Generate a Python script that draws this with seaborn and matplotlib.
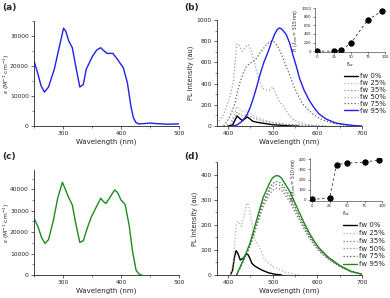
import numpy as np
import pandas as pd
import matplotlib
matplotlib.use('Agg')
import matplotlib.pyplot as plt
import seaborn as sns
from matplotlib.ticker import MultipleLocator, AutoMinorLocator

# (a) absorption, blue compound
wl_a = [250, 257, 262, 268, 275, 285, 294, 301, 305, 310, 316, 323, 329, 335, 340,
        351, 358, 365, 371, 376, 381, 386, 394, 400, 404, 411, 417, 421, 425, 430,
        440, 450, 460, 480, 500]
eps_a = [21700, 17200, 13500, 11300, 13000, 18900, 26700, 32600, 31500, 28300, 26100,
         18900, 13000, 13800, 18900, 23300, 25300, 26100, 25000, 24200, 24200, 24200,
         22200, 20500, 19400, 14400, 6700, 3000, 1300, 700, 800, 1000, 800, 600, 700]

# (c) absorption, green compound
wl_c = [250, 257, 263, 269, 275, 283, 291, 299, 304, 309, 316, 322, 329, 335, 342,
        349, 357, 365, 370, 374, 380, 389, 394, 400, 407, 414, 420, 426, 432, 436]
eps_c = [26400, 22500, 17500, 14700, 16500, 25000, 36000, 43300, 40000, 36600, 32700,
         24000, 15200, 16000, 22000, 27200, 31500, 35800, 34200, 33400, 35800, 39700,
         38500, 35000, 33000, 23300, 10800, 2200, 200, 0]

labels = ['fw 0%', 'fw 25%', 'fw 35%', 'fw 50%', 'fw 75%', 'fw 95%']

# (b) PL spectra
b0_x = [400, 410, 416, 420, 425, 432, 438, 443, 448, 455, 465, 480, 500, 530, 560]
b0_y = [0, 10, 60, 95, 75, 50, 70, 85, 70, 45, 35, 25, 12, 3, 0]
b25_x = [390, 405, 413, 420, 427, 435, 443, 450, 460, 480, 500, 530, 570, 620]
b25_y = [0, 20, 100, 185, 150, 135, 150, 120, 90, 55, 35, 15, 5, 0]
b35_x = [390, 405, 413, 420, 427, 435, 443, 450, 460, 480, 500, 530, 570, 620]
b35_y = [0, 10, 70, 130, 105, 95, 110, 90, 70, 45, 30, 15, 5, 0]
b50_x = [375, 382, 390, 397, 405, 412, 419, 423, 428, 432, 438, 445, 452, 458, 464,
         471, 478, 486, 493, 500, 508, 515, 523, 530, 538, 550, 570, 600]
b50_y = [20, 60, 110, 190, 290, 420, 770, 775, 730, 705, 740, 770, 705, 610, 513,
         420, 353, 340, 337, 369, 288, 230, 192, 140, 96, 50, 20, 0]
b75_x = [390, 400, 408, 416, 421, 427, 434, 441, 448, 456, 464, 471, 479, 486, 492,
         497, 503, 508, 515, 523, 530, 538, 545, 553, 560, 567, 578, 590, 610, 640, 680]
b75_y = [0, 60, 130, 224, 330, 417, 500, 561, 590, 609, 640, 689, 730, 769, 790,
         801, 795, 769, 720, 641, 560, 481, 400, 320, 260, 208, 160, 112, 60, 20, 0]
b95_x = [410, 420, 430, 441, 449, 456, 464, 471, 480, 490, 497, 504, 510, 515, 520,
         530, 538, 545, 553, 560, 570, 582, 593, 604, 620, 640, 660, 680, 700]
b95_y = [0, 10, 40, 96, 170, 256, 370, 480, 600, 705, 790, 865, 910, 925, 915,
         865, 780, 673, 560, 450, 340, 240, 170, 112, 65, 30, 15, 5, 0]

# (d) PL spectra
d0_x = [405, 410, 414, 418, 422, 427, 434, 441, 445, 449, 453, 458, 464, 475, 490, 505, 520]
d0_y = [0, 20, 70, 97, 85, 60, 67, 84, 80, 65, 47, 38, 31, 20, 9, 3, 0]
d25_x = [405, 412, 416, 419, 423, 430, 436, 441, 444, 448, 453, 460, 471, 482, 501, 530, 560]
d25_y = [0, 60, 160, 207, 213, 193, 240, 280, 287, 260, 207, 140, 107, 60, 33, 10, 0]
d_x = [419, 434, 449, 464, 478, 493, 500, 508, 514, 519, 528, 538, 549, 560, 571,
       582, 593, 604, 625, 650, 675, 700]
d35_y = [0, 55, 112, 195, 270, 322, 338, 345, 344, 338, 318, 292, 255, 217, 180,
         147, 118, 94, 62, 33, 13, 3]
d50_y = [0, 57, 117, 202, 281, 336, 353, 360, 358, 352, 331, 304, 265, 226, 188,
         153, 123, 98, 64, 35, 14, 3]
d75_y = [0, 58, 120, 208, 290, 347, 365, 372, 370, 364, 342, 314, 274, 233, 194,
         158, 127, 101, 66, 36, 14, 3]
d95_y = [0, 60, 127, 220, 307, 367, 388, 396, 394, 387, 362, 333, 290, 247, 205,
         167, 135, 107, 70, 38, 15, 3]

# insets
fw = [0, 25, 35, 50, 75, 95]
fi_b = [0, 0, 15, 190, 730, 920]
fi_d = [5, 20, 345, 360, 369, 391]

sns.set_style('ticks')
plt.rcParams['font.family'] = ['DejaVu Sans']
plt.rcParams['axes.linewidth'] = 0.6

fig = plt.figure(figsize=(3.9, 2.98), dpi=100)

def style(ax, fs=4.3):
    sns.despine(ax=ax)
    ax.tick_params(which='major', labelsize=fs, length=2.5, width=0.5, pad=1.2)
    ax.tick_params(which='minor', length=1.3, width=0.4)
    ax.xaxis.set_minor_locator(AutoMinorLocator(2))
    ax.yaxis.set_minor_locator(AutoMinorLocator(2))

blue = '#2020e8'
green = '#1f8a1f'
eps_label = r'$\varepsilon$ (M$^{-1}$ cm$^{-1}$)'

# (a)
ax_a = fig.add_axes([34/390, 1-126/298, 145/390, 105/298])
sns.lineplot(x=wl_a, y=eps_a, ax=ax_a, color=blue, lw=1)
ax_a.set_xlim(250, 500)
ax_a.set_ylim(0, 35000)
ax_a.xaxis.set_major_locator(MultipleLocator(100))
ax_a.yaxis.set_major_locator(MultipleLocator(10000))
ax_a.set_xlabel('Wavelength (nm)', fontsize=5, labelpad=1.5)
ax_a.set_ylabel(eps_label, fontsize=4.3)
ax_a.yaxis.set_label_coords(-0.155, 0.5)
style(ax_a)

# (c)
ax_c = fig.add_axes([34/390, 1-275/298, 145/390, 105/298])
sns.lineplot(x=wl_c, y=eps_c, ax=ax_c, color=green, lw=1)
ax_c.set_xlim(250, 500)
ax_c.set_ylim(0, 49000)
ax_c.xaxis.set_major_locator(MultipleLocator(100))
ax_c.yaxis.set_major_locator(MultipleLocator(10000))
ax_c.set_xlabel('Wavelength (nm)', fontsize=5, labelpad=1.5)
ax_c.set_ylabel(eps_label, fontsize=4.3)
ax_c.yaxis.set_label_coords(-0.155, 0.5)
style(ax_c)

# (b)
ax_b = fig.add_axes([217/390, 1-126/298, 145/390, 106/298])
b_series = [(b0_x, b0_y, 'black', '-', 1.0),
            (b25_x, b25_y, '#b0b0b0', ':', 0.9),
            (b35_x, b35_y, '#8c8c8c', ':', 0.9),
            (b50_x, b50_y, '#a0a0a0', ':', 0.9),
            (b75_x, b75_y, '#606060', ':', 0.9),
            (b95_x, b95_y, blue, '-', 1.0)]
for (x, y, c, ls, lw), lab in zip(b_series, labels):
    sns.lineplot(x=x, y=y, ax=ax_b, color=c, linestyle=ls, lw=lw, label=lab)
ax_b.set_xlim(375, 700)
ax_b.set_ylim(0, 1000)
ax_b.xaxis.set_major_locator(MultipleLocator(100))
ax_b.yaxis.set_major_locator(MultipleLocator(200))
ax_b.set_xlabel('Wavelength (nm)', fontsize=5, labelpad=1.5)
ax_b.set_ylabel('PL Intensity (au)', fontsize=4.8, labelpad=2)
style(ax_b)
ax_b.legend(loc='upper left', bbox_to_anchor=(341/390, 1-70/298),
            bbox_transform=fig.transFigure, frameon=False, fontsize=5,
            handlelength=2.0, handletextpad=0.3, labelspacing=0.12, borderpad=0)

# (d)
ax_d = fig.add_axes([217/390, 1-275/298, 145/390, 113/298])
d_series = [(d0_x, d0_y, 'black', '-', 1.0),
            (d25_x, d25_y, '#b0b0b0', ':', 0.9),
            (d_x, d35_y, '#707070', ':', 0.9),
            (d_x, d50_y, '#808080', ':', 0.9),
            (d_x, d75_y, '#505050', ':', 0.9),
            (d_x, d95_y, green, '-', 1.0)]
for (x, y, c, ls, lw), lab in zip(d_series, labels):
    sns.lineplot(x=x, y=y, ax=ax_d, color=c, linestyle=ls, lw=lw, label=lab)
ax_d.set_xlim(375, 700)
ax_d.set_ylim(0, 450)
ax_d.xaxis.set_major_locator(MultipleLocator(100))
ax_d.yaxis.set_major_locator(MultipleLocator(100))
ax_d.set_xlabel('Wavelength (nm)', fontsize=5, labelpad=1.5)
ax_d.set_ylabel('PL Intensity (au)', fontsize=4.8, labelpad=2)
style(ax_d)
ax_d.legend(loc='upper left', bbox_to_anchor=(340/390, 1-219/298),
            bbox_transform=fig.transFigure, frameon=False, fontsize=5,
            handlelength=2.0, handletextpad=0.3, labelspacing=0.25, borderpad=0)

# insets
def inset(rect, y, ylim, ystep, ylab):
    ax = fig.add_axes(rect)
    sns.lineplot(x=fw, y=y, ax=ax, color='#333333', lw=0.6, linestyle=(0, (3, 3)),
                 marker='o', markersize=3.8, markerfacecolor='black',
                 markeredgecolor='black')
    ax.set_xlim(-3, 100)
    ax.set_ylim(*ylim)
    ax.xaxis.set_major_locator(MultipleLocator(25))
    ax.yaxis.set_major_locator(MultipleLocator(ystep))
    sns.despine(ax=ax)
    ax.tick_params(labelsize=2.8, length=1.5, width=0.4, pad=1)
    ax.set_xlabel(r'f$_w$', fontsize=4.5, labelpad=0.5)
    ax.set_ylabel(ylab, fontsize=3.3, labelpad=1)
    for s in ax.spines.values():
        s.set_linewidth(0.4)
    return ax

inset([315/390, 1-52/298, 70/390, 44/298], fi_b, (-20, 1000), 200,
      r'FI ($\lambda_{em}$ = 515 nm)')
inset([310/390, 1-201/298, 72/390, 43/298], fi_d, (-10, 410), 100,
      r'FI ($\lambda_{em}$ = 510 nm)')

# panel letters
for x, y, t in [(2, 3, '(a)'), (184, 3, '(b)'), (2, 152, '(c)'), (184, 152, '(d)')]:
    fig.text(x/390, 1-y/298, t, fontsize=6.5, fontweight='bold', va='top', ha='left')

fig.savefig('out.png', dpi=100)
